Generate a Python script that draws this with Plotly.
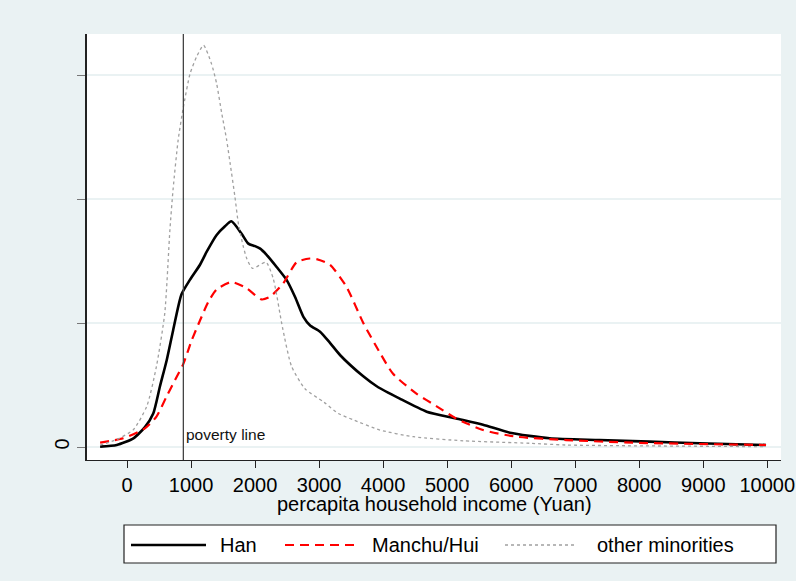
import numpy as np
import plotly.graph_objects as go

# ---- data (density values stored x 1e4) ----
han_x = [-420, -160, 100, 280, 410, 515, 620, 720, 850, 985, 1140, 1245, 1400, 1530, 1630,
         1790, 1895, 2000, 2080, 2180, 2340, 2490, 2625, 2755, 2860, 3015, 3170, 3330, 3690,
         3900, 4260, 4680, 5140, 5560, 5980, 6600, 7380, 8160, 8940, 9980]
han_d = [0.003, 0.016, 0.07, 0.16, 0.27, 0.49, 0.70, 0.94, 1.23, 1.35, 1.47, 1.575, 1.71, 1.78, 1.82,
         1.72, 1.64, 1.62, 1.60, 1.55, 1.45, 1.35, 1.21, 1.05, 0.98, 0.93, 0.84, 0.74, 0.57,
         0.49, 0.39, 0.285, 0.23, 0.18, 0.115, 0.07, 0.056, 0.043, 0.03, 0.016]

mh_x = [-420, -60, 280, 460, 620, 750, 880, 1010, 1140, 1270, 1400, 1630, 1870, 2100, 2230,
        2440, 2650, 2855, 2960, 3170, 3430, 3690, 3950, 4155, 4520, 4830, 5140, 5560, 6080,
        6860, 7900, 8940, 9980]
mh_d = [0.035, 0.07, 0.15, 0.245, 0.41, 0.54, 0.67, 0.86, 1.02, 1.17, 1.27, 1.33, 1.28, 1.19, 1.21,
        1.32, 1.49, 1.52, 1.515, 1.47, 1.29, 1.00, 0.76, 0.59, 0.43, 0.33, 0.23, 0.137, 0.083,
        0.056, 0.035, 0.024, 0.016]

om_x = [-420, -160, 100, 310, 460, 590, 670, 720, 800, 880, 985, 1090, 1195, 1320, 1400, 1480,
        1555, 1610, 1685, 1740, 1815, 1870, 1960, 2170, 2283, 2430, 2570, 2780, 3080, 3300, 3530,
        3950, 4470, 5250, 6290, 6860, 9980]
om_d = [0.016, 0.06, 0.14, 0.33, 0.65, 1.08, 1.75, 2.08, 2.48, 2.74, 3.01, 3.15, 3.24, 3.09, 2.93, 2.69,
        2.48, 2.29, 2.02, 1.80, 1.62, 1.52, 1.44, 1.49, 1.36, 0.96, 0.65, 0.47, 0.36, 0.27, 0.22,
        0.137, 0.083, 0.05, 0.03, 0.016, 0.003]

poverty_line = 880
x_ticks = [0, 1000, 2000, 3000, 4000, 5000, 6000, 7000, 8000, 9000, 10000]
x_ticktext = ["0", "1000", "2000", "3000", "4000", "5000", "6000", "7000", "8000", "9000", "10000"]
y_ticks = [0, 0.0001, 0.0002, 0.0003]
y_ticktext = ["0", "", "", ""]
series_names = ["Han", "Manchu/Hui", "other minorities"]

SCALE = 1e-4
BG = "#EAF2F3"
FONT = "Liberation Sans, Arial, sans-serif"
GRAY = "#a0a0a0"

fig = go.Figure()
fig.add_trace(go.Scatter(x=han_x, y=np.array(han_d) * SCALE, mode="lines", name=series_names[0],
                         line=dict(color="black", width=2.6, shape="spline", smoothing=0.6)))
fig.add_trace(go.Scatter(x=mh_x, y=np.array(mh_d) * SCALE, mode="lines", name=series_names[1],
                         line=dict(color="#FF0000", width=2.2, dash="9px,6px", shape="spline", smoothing=0.6)))
fig.add_trace(go.Scatter(x=om_x, y=np.array(om_d) * SCALE, mode="lines", name=series_names[2],
                         line=dict(color=GRAY, width=1.3, dash="dot", shape="spline", smoothing=0.6)))

# poverty line
fig.add_shape(type="line", xref="x", yref="paper", x0=poverty_line, x1=poverty_line, y0=0, y1=1,
              line=dict(color="#444444", width=1.3), layer="above")
fig.add_annotation(x=poverty_line, y=0.1 * SCALE, xref="x", yref="y", text="poverty line",
                   showarrow=False, xanchor="left", yanchor="middle", xshift=1,
                   font=dict(family=FONT, size=15.5, color="#111111"))

# ---- geometry helpers (pixel -> paper) ----
PL, PR, PT, PB = 87, 781, 34, 460
def px_x(p):
    return (p - PL) / (PR - PL)
def px_y(p):
    return (PB - p) / (PB - PT)

# manual legend
fig.add_shape(type="rect", xref="paper", yref="paper", x0=px_x(124), x1=px_x(776),
              y0=px_y(563), y1=px_y(525), line=dict(color="#222222", width=1.2), fillcolor="white")
leg_y = px_y(545)
legend_items = [
    (131, 206, 218, dict(color="black", width=2.6)),
    (285, 356, 370, dict(color="#FF0000", width=2.2, dash="9px,6px")),
    (505, 576, 595, dict(color=GRAY, width=1.3, dash="dot")),
]
for (a, b, t, ln), name in zip(legend_items, series_names):
    fig.add_shape(type="line", xref="paper", yref="paper", x0=px_x(a), x1=px_x(b), y0=leg_y, y1=leg_y, line=ln)
    fig.add_annotation(x=px_x(t), y=leg_y, xref="paper", yref="paper", text=name, showarrow=False,
                       xanchor="left", yanchor="middle", font=dict(family=FONT, size=20, color="black"))

# x-axis title
fig.add_annotation(x=0.5, y=px_y(504), xref="paper", yref="paper", text="percapita household income (Yuan)",
                   showarrow=False, xanchor="center", yanchor="middle", xshift=(434 - (PL + PR) / 2),
                   font=dict(family=FONT, size=20, color="black"))

x0 = (PL - 127) / 0.06403
x1 = (PR - 127) / 0.06403
y0 = (447 - PB) / 124 * SCALE
y1 = (447 - PT) / 124 * SCALE

fig.update_layout(
    width=796, height=581, autosize=False,
    margin=dict(l=PL, r=796 - PR, t=PT, b=581 - PB),
    paper_bgcolor=BG, plot_bgcolor="white",
    showlegend=False,
    font=dict(family=FONT, size=20, color="black"),
    xaxis=dict(range=[x0, x1], tickvals=x_ticks, ticktext=x_ticktext, ticks="outside", ticklen=7,
               tickwidth=1.3, tickcolor="#222222", showline=True, linecolor="#222222", linewidth=1.3,
               showgrid=False, zeroline=False, tickfont=dict(size=20), automargin=False),
    yaxis=dict(range=[y0, y1], tickvals=y_ticks, ticktext=y_ticktext, ticks="outside", ticklen=8,
               tickwidth=1.3, tickcolor="#777777", showline=True, linecolor="#222222", linewidth=1.5,
               showgrid=True, gridcolor=BG, gridwidth=1.5, zeroline=False, tickangle=-90,
               tickfont=dict(size=20), automargin=False),
)

fig.write_html("out.html",
               config={"displayModeBar": False, "responsive": False},
               post_script="document.body.style.margin='0';document.body.style.overflow='hidden';")
